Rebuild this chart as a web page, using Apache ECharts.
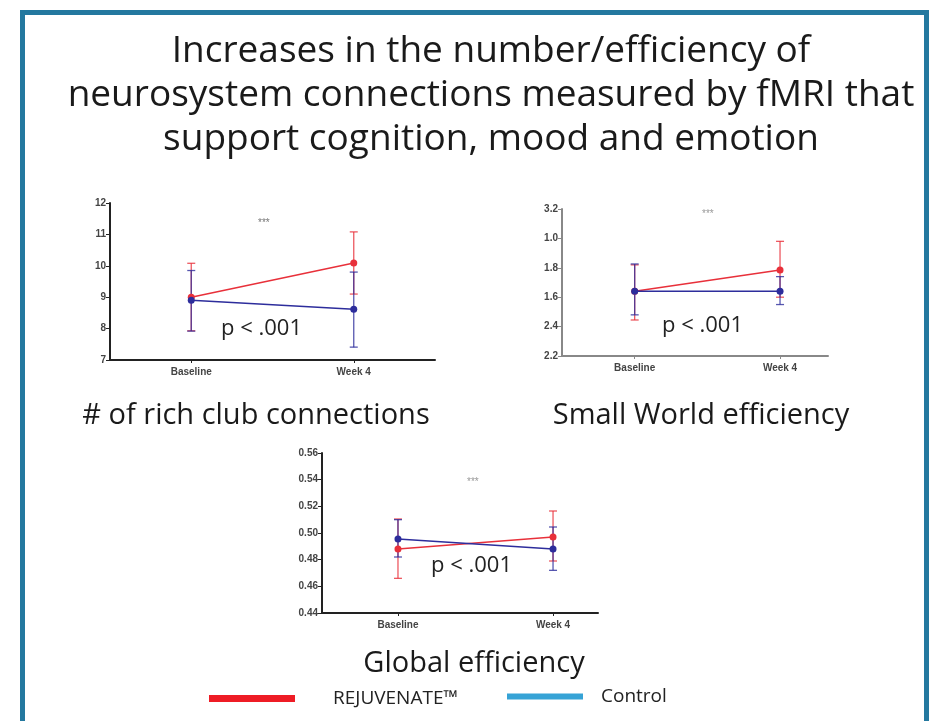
<!DOCTYPE html>
<html>
<head>
<meta charset="utf-8">
<script src="https://cdn.jsdelivr.net/npm/echarts@6/dist/echarts.min.js"></script>
<style>
  html, body { margin: 0; padding: 0; background: #fff; }
  #chart { width: 930px; height: 721px; }
</style>
</head>
<body>
<div id="chart"></div>
<script>
const categories = ['Baseline', 'Week 4'];

// rich club connections
const richRejMean = [9.0, 10.09];
const richRejLow = [7.93, 9.1];
const richRejHigh = [10.08, 11.08];
const richCtlMean = [8.9, 8.62];
const richCtlLow = [7.92, 7.41];
const richCtlHigh = [9.85, 9.8];

// small world efficiency
const swRejMean = [2.64, 2.785];
const swRejLow = [2.445, 2.6];
const swRejHigh = [2.82, 2.98];
const swCtlMean = [2.64, 2.64];
const swCtlLow = [2.48, 2.55];
const swCtlHigh = [2.826, 2.74];
const swTickLabels = ['2.2', '2.4', '1.6', '1.8', '1.0', '3.2'];

// global efficiency
const geRejMean = [0.488, 0.497];
const geRejLow = [0.466, 0.479];
const geRejHigh = [0.5105, 0.5165];
const geCtlMean = [0.4955, 0.488];
const geCtlLow = [0.482, 0.472];
const geCtlHigh = [0.51, 0.5045];

const RED = '#e8303a';
const NAVY = '#2d2d9c';

const chart = echarts.init(document.getElementById('chart'));

function errorBar(color) {
  return function (params, api) {
    const x = api.value(0);
    const lo = api.coord([x, api.value(1)]);
    const hi = api.coord([x, api.value(2)]);
    const w = 4;
    const style = { stroke: color, lineWidth: 1.3, opacity: 0.8 };
    return {
      type: 'group',
      children: [
        { type: 'line', shape: { x1: lo[0], y1: lo[1], x2: hi[0], y2: hi[1] }, style: style },
        { type: 'line', shape: { x1: lo[0] - w, y1: lo[1], x2: lo[0] + w, y2: lo[1] }, style: style },
        { type: 'line', shape: { x1: hi[0] - w, y1: hi[1], x2: hi[0] + w, y2: hi[1] }, style: style },
      ],
    };
  };
}

// x position of each point is its category index
function bars(lo, hi) {
  return lo.map((v, i) => [i, v, hi[i]]);
}
function points(mean) {
  return mean.map((v, i) => [i, v]);
}

function panelSeries(idx, rejMean, rejLow, rejHigh, ctlMean, ctlLow, ctlHigh) {
  const common = { xAxisIndex: idx, yAxisIndex: idx, animation: false };
  return [
    Object.assign({
      name: 'REJUVENATE™', type: 'custom', renderItem: errorBar(RED),
      encode: { x: 0, y: [1, 2] }, data: bars(rejLow, rejHigh), z: 2,
    }, common),
    Object.assign({
      name: 'Control', type: 'custom', renderItem: errorBar(NAVY),
      encode: { x: 0, y: [1, 2] }, data: bars(ctlLow, ctlHigh), z: 2,
    }, common),
    Object.assign({
      name: 'REJUVENATE™', type: 'line', data: points(rejMean), symbol: 'circle', symbolSize: 7,
      itemStyle: { color: RED }, lineStyle: { color: RED, width: 1.5 }, z: 3,
    }, common),
    Object.assign({
      name: 'Control', type: 'line', data: points(ctlMean), symbol: 'circle', symbolSize: 7,
      itemStyle: { color: NAVY }, lineStyle: { color: NAVY, width: 1.5 }, z: 4,
    }, common),
  ];
}

function xAxisFor(idx, min, max, axisColor) {
  return {
    type: 'value', gridIndex: idx, min: min, max: max,
    splitLine: { show: false },
    axisLine: { onZero: false, lineStyle: { color: axisColor, width: 2 } },
    axisTick: { length: 3, customValues: [0, 1], lineStyle: { color: axisColor } },
    axisLabel: {
      fontFamily: 'Arial', fontWeight: 'bold', fontSize: 10, color: '#444', margin: 7,
      customValues: [0, 1],
      formatter: (v) => categories[Math.round(v)],
    },
  };
}

function yAxisFor(idx, min, max, interval, axisColor, formatter) {
  return {
    type: 'value', gridIndex: idx, min: min, max: max, interval: interval,
    splitLine: { show: false },
    axisLine: { show: true, onZero: false, lineStyle: { color: axisColor, width: 2 } },
    axisTick: { show: true, length: 4, lineStyle: { color: axisColor } },
    axisLabel: {
      fontFamily: 'Arial', fontWeight: 'bold', fontSize: 10, color: '#444', margin: 4,
      formatter: formatter,
    },
  };
}

const subStyle = { fontFamily: 'Open Sans', fontSize: 29, fontWeight: 'normal', color: '#1a1a1a' };

const option = {
  backgroundColor: '#fff',
  animation: false,
  title: [
    {
      text: 'Increases in the number/efficiency of\nneurosystem connections measured by fMRI that\nsupport cognition, mood and emotion',
      left: 486, top: 24, textAlign: 'center',
      textStyle: { fontFamily: 'Open Sans', fontSize: 37, fontWeight: 'normal', color: '#1a1a1a', lineHeight: 44 },
    },
    { text: '# of rich club connections', left: 251, top: 396, textAlign: 'center', textStyle: subStyle },
    { text: 'Small World efficiency', left: 696, top: 396, textAlign: 'center', textStyle: subStyle },
    { text: 'Global efficiency', left: 469, top: 644, textAlign: 'center', textStyle: subStyle },
  ],
  legend: [
    {
      left: 204, top: 684, itemWidth: 86, itemHeight: 7, icon: 'rect',
      data: [{ name: 'REJUVENATE™', itemStyle: { color: '#ee1c25' } }],
      textStyle: { fontFamily: 'Open Sans', fontSize: 19, color: '#222', padding: [4, 0, 0, 33] },
      selectedMode: false,
    },
    {
      left: 502, top: 682, itemWidth: 76, itemHeight: 6, icon: 'rect',
      data: [{ name: 'Control', itemStyle: { color: '#36a3d6' } }],
      textStyle: { fontFamily: 'Open Sans', fontSize: 19, color: '#222', padding: [4, 0, 0, 13] },
      selectedMode: false,
    },
  ],
  grid: [
    { left: 110, top: 203, width: 325, height: 157 },
    { left: 562, top: 209, width: 266, height: 147 },
    { left: 322, top: 453, width: 276, height: 160 },
  ],
  xAxis: [
    xAxisFor(0, -0.5, 1.5, '#222'),
    xAxisFor(1, -0.5, 1.33, '#888'),
    xAxisFor(2, -0.49, 1.29, '#222'),
  ],
  yAxis: [
    yAxisFor(0, 7, 12, 1, '#222', (v) => String(v)),
    yAxisFor(1, 2.2, 3.2, 0.2, '#888', (v) => swTickLabels[Math.round((v - 2.2) / 0.2)]),
    yAxisFor(2, 0.44, 0.56, 0.02, '#222', (v) => v.toFixed(2)),
  ],
  graphic: [
    {
      type: 'rect', left: 20, top: 10, silent: true, z: 100,
      shape: { width: 904, height: 716 },
      style: { fill: 'none', stroke: '#23789f', lineWidth: 5 },
    },
    { type: 'text', left: 258, top: 218, style: { text: '***', fontSize: 10, fill: '#777', fontFamily: 'Arial' } },
    { type: 'text', left: 702, top: 209, style: { text: '***', fontSize: 10, fill: '#999', fontFamily: 'Arial' } },
    { type: 'text', left: 467, top: 477, style: { text: '***', fontSize: 10, fill: '#999', fontFamily: 'Arial' } },
    { type: 'text', left: 221, top: 318, style: { text: 'p < .001', fontSize: 22, fill: '#222', fontFamily: 'Open Sans' } },
    { type: 'text', left: 662, top: 315, style: { text: 'p < .001', fontSize: 22, fill: '#222', fontFamily: 'Open Sans' } },
    { type: 'text', left: 431, top: 555, style: { text: 'p < .001', fontSize: 22, fill: '#222', fontFamily: 'Open Sans' } },
  ],
  series: [].concat(
    panelSeries(0, richRejMean, richRejLow, richRejHigh, richCtlMean, richCtlLow, richCtlHigh),
    panelSeries(1, swRejMean, swRejLow, swRejHigh, swCtlMean, swCtlLow, swCtlHigh),
    panelSeries(2, geRejMean, geRejLow, geRejHigh, geCtlMean, geCtlLow, geCtlHigh)
  ),
};

chart.setOption(option);
window.addEventListener('resize', () => chart.resize());
</script>
</body>
</html>
